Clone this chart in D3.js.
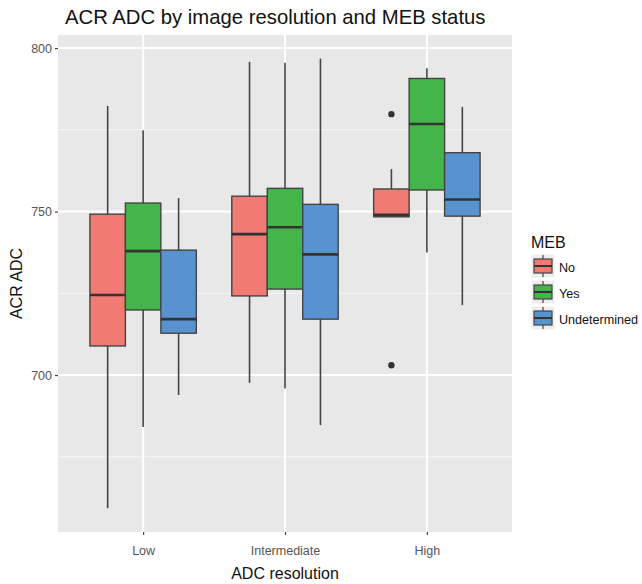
<!DOCTYPE html>
<html lang="en">
<head>
  <meta charset="UTF-8">
  <title>ACR ADC boxplot</title>
  <style>
    body { margin: 0; background: #fff; }
    text { font-family: "Liberation Sans", Arial, sans-serif; }
  </style>
</head>
<body>
  <script src="https://cdn.jsdelivr.net/npm/d3@7/dist/d3.min.js"></script>
  <script>
    // data
    let resolutions = ['Low', 'Intermediate', 'High'];
    let mebGroups = ['No', 'Yes', 'Undetermined'];
    let mebColors = ['#f17b73', '#43b54a', '#5993cf'];
    // [whisker low, q1, median, q3, whisker high] for Low, Intermediate, High
    let statsNo = [[659.3, 708.9, 724.5, 749.2, 782.3], [697.6, 724.2, 743.1, 754.7, 795.8], [748.4, 748.4, 749.0, 756.9, 763.0]];
    let statsYes = [[684.1, 719.9, 737.9, 752.6, 774.9], [695.9, 726.3, 745.2, 757.1, 795.5], [737.5, 756.6, 776.8, 790.7, 793.8]];
    let statsUnd = [[693.9, 712.8, 717.1, 738.2, 754.1], [684.7, 717.1, 736.9, 752.2, 796.8], [721.4, 748.6, 753.7, 768.0, 782.0]];
    // outliers: [resolution, group, value]
    let outliers = [['High', 'No', 779.8], ['High', 'No', 703.0]];
    let yTicks = [700, 750, 800];
    let yMinor = [675, 725, 775];

    let width = 642, height = 584;
    let panel = { left: 58, right: 512, top: 35, bottom: 532 };

    let svg = d3.select('body').append('svg')
      .attr('width', width)
      .attr('height', height);

    let x = d3.scalePoint()
      .domain(resolutions)
      .range([panel.left, panel.right])
      .padding(0.6);
    let step = x.step();
    let dodge = d3.scaleBand()
      .domain(mebGroups)
      .range([-0.375 * step, 0.375 * step]);
    let y = d3.scaleLinear()
      .domain([652, 804])
      .range([panel.bottom, panel.top]);
    let color = d3.scaleOrdinal().domain(mebGroups).range(mebColors);

    // panel background + grid
    svg.append('rect')
      .attr('x', panel.left).attr('y', panel.top)
      .attr('width', panel.right - panel.left)
      .attr('height', panel.bottom - panel.top)
      .attr('fill', '#e8e8e8');

    let grid = svg.append('g');
    grid.selectAll('.minor').data(yMinor).enter().append('line')
      .attr('x1', panel.left).attr('x2', panel.right)
      .attr('y1', d => y(d)).attr('y2', d => y(d))
      .attr('stroke', '#f7f7f7').attr('stroke-width', 1);
    grid.selectAll('.major').data(yTicks).enter().append('line')
      .attr('x1', panel.left).attr('x2', panel.right)
      .attr('y1', d => y(d)).attr('y2', d => y(d))
      .attr('stroke', '#fff').attr('stroke-width', 2);
    grid.selectAll('.vx').data(resolutions).enter().append('line')
      .attr('x1', d => x(d)).attr('x2', d => x(d))
      .attr('y1', panel.top).attr('y2', panel.bottom)
      .attr('stroke', '#fff').attr('stroke-width', 2);

    // boxes
    let boxes = [];
    [statsNo, statsYes, statsUnd].forEach(function(s, gi) {
      s.forEach(function(v, ri) {
        boxes.push({ res: resolutions[ri], group: mebGroups[gi], v: v });
      });
    });

    let bw = dodge.bandwidth();
    let bg = svg.selectAll('.box').data(boxes).enter().append('g')
      .attr('transform', d => 'translate(' + (x(d.res) + dodge(d.group)) + ',0)');
    bg.append('line')
      .attr('x1', bw / 2).attr('x2', bw / 2)
      .attr('y1', d => y(d.v[4])).attr('y2', d => y(d.v[3]))
      .attr('stroke', '#444').attr('stroke-width', 1.6);
    bg.append('line')
      .attr('x1', bw / 2).attr('x2', bw / 2)
      .attr('y1', d => y(d.v[1])).attr('y2', d => y(d.v[0]))
      .attr('stroke', '#444').attr('stroke-width', 1.6);
    bg.append('rect')
      .attr('x', 0).attr('width', bw)
      .attr('y', d => y(d.v[3]))
      .attr('height', d => y(d.v[1]) - y(d.v[3]))
      .attr('fill', d => color(d.group))
      .attr('stroke', '#444').attr('stroke-width', 1.4);
    bg.append('line')
      .attr('x1', 0).attr('x2', bw)
      .attr('y1', d => y(d.v[2])).attr('y2', d => y(d.v[2]))
      .attr('stroke', '#333').attr('stroke-width', 2.6);

    svg.selectAll('.outlier').data(outliers).enter().append('circle')
      .attr('cx', d => x(d[0]) + dodge(d[1]) + bw / 2)
      .attr('cy', d => y(d[2]))
      .attr('r', 3.2)
      .attr('fill', '#333');

    // axes
    let yAxis = svg.append('g')
      .attr('transform', 'translate(' + panel.left + ',0)')
      .call(d3.axisLeft(y).tickValues(yTicks).tickSize(3).tickPadding(3));
    let xAxis = svg.append('g')
      .attr('transform', 'translate(0,' + panel.bottom + ')')
      .call(d3.axisBottom(x).tickSize(3).tickPadding(11));
    [xAxis, yAxis].forEach(function(a) {
      a.select('.domain').remove();
      a.selectAll('.tick line').attr('stroke', '#444').attr('stroke-width', 1.2);
      a.selectAll('.tick text')
        .attr('fill', '#555')
        .style('font-size', '12.5px')
        .style('font-family', '"Liberation Sans", Arial, sans-serif');
    });

    // titles
    svg.append('text')
      .attr('x', 65).attr('y', 24)
      .attr('font-size', 20.3)
      .attr('fill', '#111')
      .text('ACR ADC by image resolution and MEB status');
    svg.append('text')
      .attr('x', (panel.left + panel.right) / 2).attr('y', 579)
      .attr('text-anchor', 'middle')
      .attr('font-size', 16)
      .attr('fill', '#111')
      .text('ADC resolution');
    svg.append('text')
      .attr('transform', 'translate(22,' + (panel.top + panel.bottom) / 2 + ') rotate(-90)')
      .attr('text-anchor', 'middle')
      .attr('font-size', 16)
      .attr('fill', '#111')
      .text('ACR ADC');

    // legend
    let legend = svg.append('g').attr('transform', 'translate(531,0)');
    legend.append('text')
      .attr('x', 0).attr('y', 248)
      .attr('font-size', 16)
      .attr('fill', '#111')
      .text('MEB');
    let keys = legend.selectAll('.key').data(mebGroups).enter().append('g')
      .attr('transform', (d, i) => 'translate(0,' + (254 + i * 26) + ')');
    keys.append('rect')
      .attr('width', 24).attr('height', 24)
      .attr('fill', '#ededed').attr('stroke', '#fff');
    keys.append('line')
      .attr('x1', 12).attr('x2', 12).attr('y1', 1).attr('y2', 23)
      .attr('stroke', '#444').attr('stroke-width', 1.2);
    keys.append('rect')
      .attr('x', 3).attr('y', 5).attr('width', 18).attr('height', 14)
      .attr('fill', d => color(d))
      .attr('stroke', '#444').attr('stroke-width', 1.2);
    keys.append('line')
      .attr('x1', 3).attr('x2', 21).attr('y1', 12).attr('y2', 12)
      .attr('stroke', '#333').attr('stroke-width', 2);
    keys.append('text')
      .attr('x', 28).attr('y', 18)
      .attr('font-size', 12.6)
      .attr('fill', '#111')
      .text(d => d);
  </script>
</body>
</html>
